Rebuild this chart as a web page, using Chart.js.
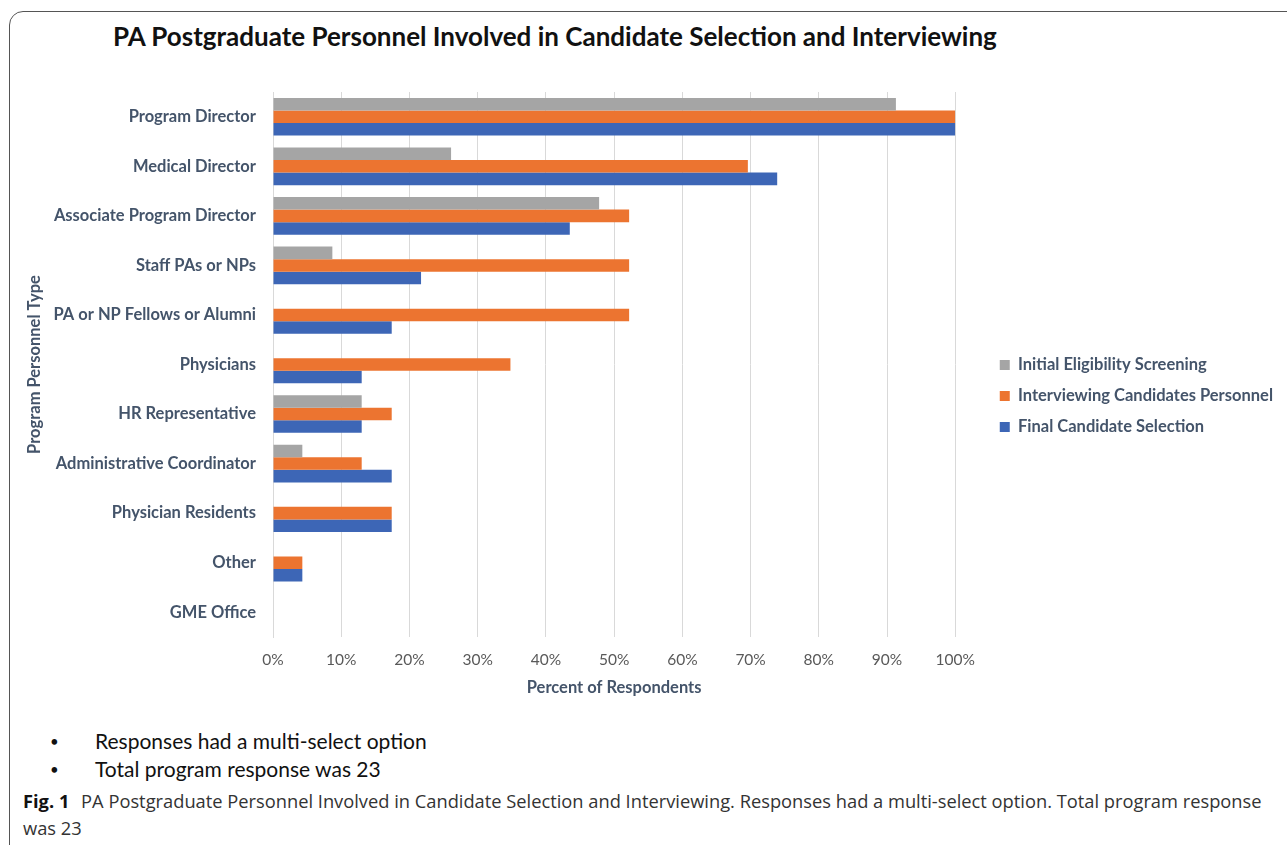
<!DOCTYPE html>
<html>
<head>
<meta charset="utf-8">
<script src="https://cdn.jsdelivr.net/npm/chart.js@4.4.0/dist/chart.umd.min.js"></script>
<style>
  body { margin: 0; background: #fff; width: 1287px; height: 845px; overflow: hidden; position: relative; font-family: Lato, sans-serif; }
  .frame { position: absolute; left: 9px; top: 11px; width: 1320px; height: 850px; border: 1.5px solid #555; border-radius: 14px; box-sizing: border-box; }
  .title { position: absolute; left: 113px; top: 20px; font: bold 26px Lato, sans-serif; color: #111; white-space: nowrap; }
  .chart-box { position: absolute; left: 0; top: 70px; width: 1287px; height: 633px; }
  .bullets { position: absolute; left: 0; top: 728px; font: 21px Lato, sans-serif; color: #111; }
  .bullets div { position: relative; height: 28px; white-space: nowrap; }
  .bullets span.dot { position: absolute; left: 50px; font-size: 15px; top: 4px; }
  .bullets span.txt { position: absolute; left: 95px; }
  .caption { position: absolute; left: 23px; top: 787px; font: 18.3px "Open Sans", sans-serif; color: #333; line-height: 27px; white-space: nowrap; }
  .caption b { font-weight: bold; color: #111; margin-right: 7px; }
</style>
</head>
<body>
<div class="frame"></div>
<div class="title">PA Postgraduate Personnel Involved in Candidate Selection and Interviewing</div>
<div class="chart-box"><canvas id="chart"></canvas></div>
<div class="bullets">
  <div><span class="dot">•</span><span class="txt">Responses had a multi-select option</span></div>
  <div><span class="dot">•</span><span class="txt">Total program response was 23</span></div>
</div>
<div class="caption"><b>Fig. 1</b> PA Postgraduate Personnel Involved in Candidate Selection and Interviewing. Responses had a multi-select option. Total program response<br>was 23</div>
<script>
const categories = [
  "Program Director",
  "Medical Director",
  "Associate Program Director",
  "Staff PAs or NPs",
  "PA or NP Fellows or Alumni",
  "Physicians",
  "HR Representative",
  "Administrative Coordinator",
  "Physician Residents",
  "Other",
  "GME Office"
]
const initialScreening = [91.3, 26.1, 47.8, 8.7, 0, 0, 13.0, 4.3, 0, 0, 0]
const interviewing = [100, 69.6, 52.2, 52.2, 52.2, 34.8, 17.4, 13.0, 17.4, 4.3, 0]
const finalSelection = [100, 73.9, 43.5, 21.7, 17.4, 13.0, 13.0, 17.4, 17.4, 4.3, 0]
const xTicks = [0, 10, 20, 30, 40, 50, 60, 70, 80, 90, 100]

const labelColor = "#44546A"
const boldFont = { family: "Lato", size: 16.5, weight: "bold" }

// nudge the legend to where it sits in the original
const moveLegend = {
  id: "moveLegend",
  afterLayout(chart) {
    const lg = chart.legend
    lg.left += 30
    lg.right += 30
    lg.top -= 1
    lg.bottom -= 1
  }
}

new Chart(document.getElementById("chart"), {
  type: "bar",
  data: {
    labels: categories,
    datasets: [
      { label: "Initial Eligibility Screening", data: initialScreening, backgroundColor: "#A5A5A5" },
      { label: "Interviewing Candidates Personnel", data: interviewing, backgroundColor: "#EC7430" },
      { label: "Final Candidate Selection", data: finalSelection, backgroundColor: "#3D66B6" }
    ]
  },
  options: {
    indexAxis: "y",
    responsive: true,
    maintainAspectRatio: false,
    animation: false,
    datasets: { bar: { barPercentage: 1, categoryPercentage: 0.76 } },
    layout: { padding: { left: 22, top: 22, bottom: 1, right: 34 } },
    plugins: {
      tooltip: { enabled: false },
      legend: {
        position: "right",
        labels: {
          boxWidth: 10,
          boxHeight: 10,
          padding: 14.5,
          color: labelColor,
          font: boldFont
        }
      }
    },
    scales: {
      x: {
        min: 0,
        max: 100,
        afterBuildTicks: (scale) => { scale.ticks = xTicks.map((v) => ({ value: v })) },
        afterFit: (scale) => { scale.height = 65 },
        ticks: {
          callback: (v) => v + "%",
          color: "#595959",
          padding: 14,
          font: { family: "Lato", size: 15.5 }
        },
        grid: { color: "#D9D9D9", drawTicks: false },
        border: { display: false },
        title: {
          display: true,
          text: "Percent of Respondents",
          color: labelColor,
          padding: { top: 4, bottom: 4 },
          font: boldFont
        }
      },
      y: {
        afterFit: (scale) => {
          scale.width = 251
          scale.paddingTop = 0
          scale.paddingBottom = 0
        },
        ticks: {
          color: labelColor,
          padding: 17,
          font: boldFont
        },
        grid: { display: false, drawTicks: false },
        border: { color: "#D9D9D9" },
        title: {
          display: true,
          text: "Program Personnel Type",
          color: labelColor,
          padding: { top: 3, bottom: 0 },
          font: boldFont
        }
      }
    }
  },
  plugins: [moveLegend]
})
</script>
</body>
</html>
